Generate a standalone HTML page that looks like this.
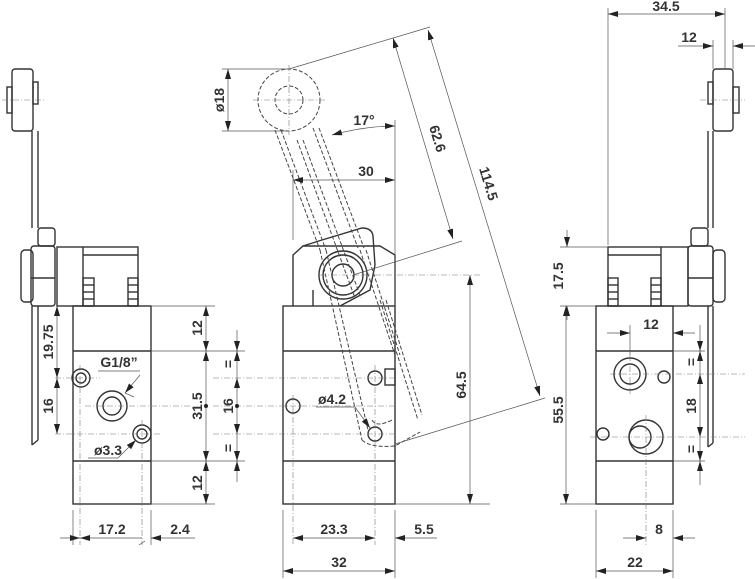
<!DOCTYPE html>
<html><head><style>
html,body{margin:0;padding:0;background:#fff}
svg{display:block}
text{font-family:"Liberation Sans",sans-serif;font-weight:bold;font-size:14px;fill:#333}
</style></head><body>
<svg width="755" height="579" viewBox="0 0 755 579" xmlns="http://www.w3.org/2000/svg">
<defs>
<marker id="a" markerWidth="10" markerHeight="6" refX="10" refY="3" orient="auto" markerUnits="userSpaceOnUse">
<path d="M0,0 L10,3 L0,6 z" fill="#222"/></marker>
<marker id="b" markerWidth="10" markerHeight="6" refX="0" refY="3" orient="auto" markerUnits="userSpaceOnUse">
<path d="M10,0 L0,3 L10,6 z" fill="#222"/></marker>
</defs>
<g fill="none" stroke="#333" stroke-width="1.4">
<!-- LEFT VIEW -->
<rect x="73" y="306" width="78" height="198"/>
<line x1="73" y1="351" x2="151" y2="351"/><line x1="73" y1="461" x2="151" y2="461"/>
<rect x="57" y="247" width="81" height="59"/>
<line x1="83" y1="247" x2="83" y2="306"/><line x1="83" y1="255" x2="138" y2="255"/>
<rect x="83" y="278" width="11" height="28"/><rect x="128" y="278" width="10" height="28"/>
<line x1="83" y1="285" x2="94" y2="285"/><line x1="83" y1="292" x2="94" y2="292"/><line x1="83" y1="299" x2="94" y2="299"/>
<line x1="128" y1="285" x2="138" y2="285"/><line x1="128" y1="292" x2="138" y2="292"/><line x1="128" y1="299" x2="138" y2="299"/>
<rect x="38" y="228" width="17" height="18" rx="3"/>
<rect x="31" y="246" width="24" height="60" rx="3"/>
<rect x="21" y="250" width="12" height="52" rx="4"/>
<line x1="31" y1="278" x2="55" y2="278"/>
<rect x="12" y="69" width="21" height="62" rx="3"/>
<rect x="7" y="87" width="5" height="26"/>
<rect x="33" y="82" width="5" height="22"/>
<line x1="32" y1="131" x2="32" y2="228"/><line x1="38" y1="131" x2="38" y2="228"/>
<line x1="32" y1="306" x2="32" y2="445"/><line x1="38" y1="306" x2="38" y2="440"/><line x1="32" y1="445" x2="38" y2="440"/>
<circle cx="112" cy="406" r="15"/><circle cx="112" cy="406" r="9"/>
<circle cx="81" cy="378" r="9"/><circle cx="81" cy="378" r="5"/>
<circle cx="142" cy="434" r="9"/><circle cx="142" cy="434" r="5"/>
<!-- MIDDLE VIEW -->
<rect x="283" y="306" width="112" height="198"/>
<line x1="283" y1="351" x2="395" y2="351"/><line x1="283" y1="461" x2="395" y2="461"/>
<path d="M293,306 V255 L303,246 H380 L395,255 V306"/>
<path d="M303,246 L322,240 L362,228 Q372,228 373,236 L375,265 L370,290 L340,306"/>
<line x1="313" y1="290" x2="313" y2="306"/>
<circle cx="343" cy="275" r="24"/><circle cx="343" cy="275" r="20"/><circle cx="343" cy="275" r="11"/>
<rect x="385" y="369" width="10" height="16"/>
<circle cx="293" cy="406" r="7"/><circle cx="375" cy="378" r="7"/><circle cx="375" cy="434" r="7"/>
<!-- RIGHT VIEW -->
<rect x="596" y="306" width="77" height="198"/>
<line x1="596" y1="351" x2="673" y2="351"/><line x1="596" y1="461" x2="673" y2="461"/>
<rect x="608" y="247" width="80" height="59"/>
<line x1="661" y1="247" x2="661" y2="306"/><line x1="608" y1="255" x2="661" y2="255"/>
<rect x="608" y="278" width="10" height="28"/><rect x="651" y="278" width="10" height="28"/>
<line x1="608" y1="285" x2="618" y2="285"/><line x1="608" y1="292" x2="618" y2="292"/><line x1="608" y1="299" x2="618" y2="299"/>
<line x1="651" y1="285" x2="661" y2="285"/><line x1="651" y1="292" x2="661" y2="292"/><line x1="651" y1="299" x2="661" y2="299"/>
<rect x="691" y="228" width="17" height="18" rx="3"/>
<rect x="688" y="246" width="25" height="60" rx="3"/>
<rect x="713" y="250" width="12" height="52" rx="4"/>
<line x1="688" y1="278" x2="713" y2="278"/>
<rect x="713" y="69" width="20" height="62" rx="3"/>
<rect x="733" y="87" width="6" height="26"/>
<rect x="708" y="82" width="5" height="22"/>
<line x1="708" y1="131" x2="708" y2="228"/><line x1="713" y1="131" x2="713" y2="228"/>
<line x1="708" y1="306" x2="708" y2="447"/><line x1="713" y1="306" x2="713" y2="443"/><line x1="708" y1="447" x2="713" y2="443"/>
<circle cx="630" cy="374" r="16"/><circle cx="630" cy="374" r="10"/>
<circle cx="664" cy="377" r="6"/><circle cx="603" cy="434" r="6"/>
<circle cx="646" cy="437" r="17"/><circle cx="640" cy="437" r="11"/>
</g>
<!-- hidden lever (dashed) -->
<g fill="none" stroke="#444" stroke-width="1" stroke-dasharray="4,2">
<circle cx="289" cy="100" r="31"/><circle cx="289" cy="100" r="14"/>
<line x1="275" y1="130" x2="320" y2="250"/><line x1="281" y1="130" x2="326" y2="250"/>
<line x1="313" y1="128" x2="358" y2="248"/><line x1="319" y1="128" x2="364" y2="248"/>
<line x1="297" y1="140" x2="355" y2="298"/><line x1="303" y1="140" x2="361" y2="298"/>
<line x1="320" y1="250" x2="362" y2="440"/><line x1="326" y1="250" x2="368" y2="430"/>
<line x1="360" y1="250" x2="395" y2="355"/><line x1="366" y1="250" x2="400" y2="355"/>
<line x1="380" y1="300" x2="418" y2="420"/><line x1="386" y1="300" x2="422" y2="415"/>
<path d="M362,440 Q370,448 395,446 L420,432"/>
<path d="M372,420 Q376,428 392,420"/>
</g>
<!-- centre lines -->
<g stroke="#777" stroke-width="0.6" stroke-dasharray="6,2,1,2" fill="none">
<line x1="2" y1="100" x2="45" y2="100"/><line x1="700" y1="100" x2="745" y2="100"/>
<line x1="253" y1="100" x2="325" y2="100"/><line x1="289" y1="65" x2="289" y2="135"/>
<line x1="55" y1="378" x2="100" y2="378"/><line x1="80" y1="365" x2="80" y2="545"/>
<line x1="85" y1="406" x2="190" y2="406"/><line x1="142" y1="420" x2="142" y2="545"/>
<line x1="55" y1="434" x2="160" y2="434"/>
<line x1="213" y1="378" x2="395" y2="378"/><line x1="213" y1="406" x2="395" y2="406"/><line x1="213" y1="434" x2="395" y2="434"/>
<line x1="293" y1="395" x2="293" y2="545"/><line x1="375" y1="365" x2="375" y2="545"/>
<line x1="320" y1="275" x2="480" y2="275"/>
<line x1="610" y1="374" x2="745" y2="374"/><line x1="630" y1="355" x2="630" y2="395"/>
<line x1="590" y1="437" x2="745" y2="437"/><line x1="646" y1="415" x2="646" y2="545"/>
</g>
<!-- dimension lines -->
<g stroke="#555" stroke-width="0.7" fill="none">
<!-- left -->
<line x1="57" y1="306" x2="57" y2="378" marker-start="url(#b)" marker-end="url(#a)"/>
<line x1="57" y1="378" x2="57" y2="434" marker-start="url(#b)" marker-end="url(#a)"/>
<line x1="151" y1="306" x2="215" y2="306"/><line x1="151" y1="351" x2="245" y2="351"/>
<line x1="151" y1="461" x2="245" y2="461"/><line x1="151" y1="504" x2="215" y2="504"/>
<line x1="206" y1="306" x2="206" y2="351" marker-start="url(#b)" marker-end="url(#a)"/>
<line x1="206" y1="351" x2="206" y2="461" marker-start="url(#b)" marker-end="url(#a)"/>
<line x1="206" y1="461" x2="206" y2="504" marker-start="url(#b)" marker-end="url(#a)"/>
<line x1="237" y1="330" x2="237" y2="351" marker-end="url(#a)"/>
<line x1="237" y1="378" x2="237" y2="351" marker-end="url(#a)"/>
<line x1="237" y1="378" x2="237" y2="434" marker-start="url(#b)" marker-end="url(#a)"/>
<line x1="237" y1="434" x2="237" y2="461" marker-end="url(#a)"/>
<line x1="237" y1="482" x2="237" y2="461" marker-end="url(#a)"/>
<line x1="151" y1="510" x2="151" y2="545"/><line x1="73" y1="510" x2="73" y2="545"/>
<line x1="60" y1="538" x2="80" y2="538" marker-end="url(#a)"/>
<line x1="80" y1="538" x2="142" y2="538" marker-start="url(#b)"/>
<line x1="195" y1="538" x2="151" y2="538" marker-end="url(#a)"/>
<line x1="145" y1="541" x2="139" y2="545"/>
<line x1="134" y1="397" x2="125" y2="393" /><line x1="140" y1="375" x2="125" y2="393" marker-end="url(#a)"/>
<line x1="98" y1="371" x2="140" y2="371"/>
<line x1="88" y1="458" x2="118" y2="458"/><line x1="118" y1="458" x2="136" y2="440" marker-end="url(#a)"/>
<!-- middle -->
<line x1="228" y1="69" x2="228" y2="131" marker-start="url(#b)" marker-end="url(#a)"/>
<line x1="222" y1="69" x2="289" y2="69"/><line x1="222" y1="131" x2="289" y2="131"/>
<line x1="395" y1="120" x2="395" y2="306"/><line x1="293" y1="170" x2="293" y2="240"/>
<line x1="293" y1="180" x2="395" y2="180" marker-start="url(#b)" marker-end="url(#a)"/>
<path d="M332,135 Q365,126 395,126" marker-start="url(#b)" marker-end="url(#a)"/>
<line x1="289" y1="69" x2="430" y2="27"/>
<line x1="353" y1="275" x2="462" y2="241"/>
<line x1="395" y1="444" x2="545" y2="398"/>
<line x1="393" y1="38" x2="453" y2="239" marker-start="url(#b)" marker-end="url(#a)"/>
<line x1="428" y1="30" x2="540" y2="396" marker-start="url(#b)" marker-end="url(#a)"/>
<line x1="470" y1="275" x2="470" y2="504" marker-start="url(#b)" marker-end="url(#a)"/>
<line x1="395" y1="504" x2="490" y2="504"/>
<line x1="283" y1="510" x2="283" y2="578"/><line x1="395" y1="510" x2="395" y2="578"/>
<line x1="293" y1="538" x2="375" y2="538" marker-start="url(#b)" marker-end="url(#a)"/>
<line x1="437" y1="538" x2="395" y2="538" marker-end="url(#a)"/>
<line x1="283" y1="571" x2="395" y2="571" marker-start="url(#b)" marker-end="url(#a)"/>
<line x1="316" y1="407" x2="355" y2="407"/><line x1="355" y1="407" x2="370" y2="428" marker-end="url(#a)"/>
<!-- right -->
<line x1="608" y1="8" x2="608" y2="245"/><line x1="725" y1="8" x2="725" y2="69"/>
<line x1="608" y1="14" x2="725" y2="14" marker-start="url(#b)" marker-end="url(#a)"/>
<line x1="713" y1="40" x2="713" y2="69"/><line x1="733" y1="40" x2="733" y2="69"/>
<line x1="678" y1="46" x2="713" y2="46" marker-end="url(#a)"/>
<line x1="755" y1="46" x2="733" y2="46" marker-end="url(#a)"/>
<line x1="560" y1="247" x2="608" y2="247"/><line x1="560" y1="306" x2="596" y2="306"/>
<line x1="560" y1="504" x2="596" y2="504"/>
<line x1="567" y1="230" x2="567" y2="247" marker-end="url(#a)"/>
<line x1="567" y1="320" x2="567" y2="306" marker-end="url(#a)"/>
<line x1="566" y1="306" x2="566" y2="504" marker-start="url(#b)" marker-end="url(#a)"/>
<line x1="607" y1="333" x2="630" y2="333" marker-end="url(#a)"/>
<line x1="695" y1="333" x2="673" y2="333" marker-end="url(#a)"/>
<line x1="630" y1="325" x2="630" y2="355"/>
<line x1="673" y1="351" x2="705" y2="351"/><line x1="673" y1="461" x2="705" y2="461"/>
<line x1="700" y1="325" x2="700" y2="351" marker-end="url(#a)"/>
<line x1="700" y1="374" x2="700" y2="351" marker-end="url(#a)"/>
<line x1="700" y1="374" x2="700" y2="437" marker-start="url(#b)" marker-end="url(#a)"/>
<line x1="700" y1="437" x2="700" y2="461" marker-end="url(#a)"/>
<line x1="700" y1="485" x2="700" y2="461" marker-end="url(#a)"/>
<line x1="596" y1="510" x2="596" y2="578"/><line x1="673" y1="510" x2="673" y2="578"/>
<line x1="623" y1="538" x2="646" y2="538" marker-end="url(#a)"/>
<line x1="695" y1="538" x2="673" y2="538" marker-end="url(#a)"/>
<line x1="596" y1="571" x2="673" y2="571" marker-start="url(#b)" marker-end="url(#a)"/>
</g>
<g fill="#222"><circle cx="206" cy="406" r="2"/><circle cx="237" cy="406" r="2"/></g>
<!-- texts -->
<text transform="translate(53,342) rotate(-90)" text-anchor="middle">19.75</text>
<text transform="translate(53,406) rotate(-90)" text-anchor="middle">16</text>
<text transform="translate(202,328) rotate(-90)" text-anchor="middle">12</text>
<text transform="translate(202,406) rotate(-90)" text-anchor="middle">31.5</text>
<text transform="translate(202,483) rotate(-90)" text-anchor="middle">12</text>
<text transform="translate(233,364) rotate(-90)" text-anchor="middle">=</text>
<text transform="translate(233,406) rotate(-90)" text-anchor="middle">16</text>
<text transform="translate(233,448) rotate(-90)" text-anchor="middle">=</text>
<text x="119" y="367" text-anchor="middle">G1/8”</text>
<text x="108" y="455" text-anchor="middle">ø3.3</text>
<text x="112" y="534" text-anchor="middle">17.2</text>
<text x="180" y="534" text-anchor="middle">2.4</text>
<text transform="translate(224,100) rotate(-90)" text-anchor="middle">ø18</text>
<text x="364" y="125" text-anchor="middle">17°</text>
<text x="366" y="176" text-anchor="middle">30</text>
<text transform="translate(433,140) rotate(73)" text-anchor="middle">62.6</text>
<text transform="translate(484,185) rotate(73)" text-anchor="middle">114.5</text>
<text transform="translate(466,385) rotate(-90)" text-anchor="middle">64.5</text>
<text x="332" y="404" text-anchor="middle">ø4.2</text>
<text x="334" y="534" text-anchor="middle">23.3</text>
<text x="424" y="534" text-anchor="middle">5.5</text>
<text x="339" y="567" text-anchor="middle">32</text>
<text x="666" y="11" text-anchor="middle">34.5</text>
<text x="689" y="42" text-anchor="middle">12</text>
<text transform="translate(563,276) rotate(-90)" text-anchor="middle">17.5</text>
<text transform="translate(563,410) rotate(-90)" text-anchor="middle">55.5</text>
<text x="651" y="329" text-anchor="middle">12</text>
<text transform="translate(696,362) rotate(-90)" text-anchor="middle">=</text>
<text transform="translate(696,406) rotate(-90)" text-anchor="middle">18</text>
<text transform="translate(696,449) rotate(-90)" text-anchor="middle">=</text>
<text x="659" y="534" text-anchor="middle">8</text>
<text x="635" y="567" text-anchor="middle">22</text>
</svg>
</body></html>
